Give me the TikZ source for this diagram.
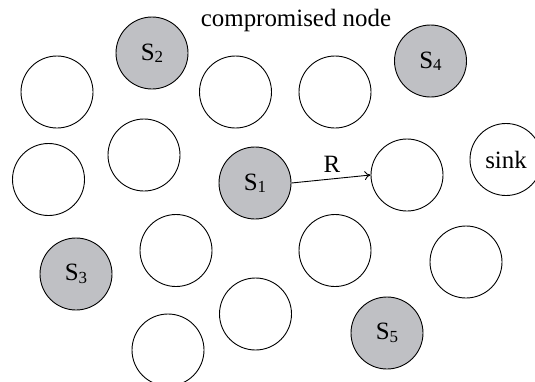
\documentclass[tikz,border=0pt]{standalone}
\usepackage{fontspec}
\setmainfont{Liberation Serif}
\usetikzlibrary{arrows.meta}
\definecolor{cgray}{RGB}{191,192,196}
\newcommand{\sub}[1]{\raisebox{-2.5bp}{\fontsize{17}{17}\selectfont #1}}
\begin{document}
\begin{tikzpicture}[x=1bp,y=-1bp,
 nd/.style={circle,draw,line width=0.9bp,minimum size=72bp,inner sep=0pt,font=\fontsize{25}{28}\selectfont},
 cp/.style={nd,fill=cgray},
 lbl/.style={font=\fontsize{25}{28}\selectfont,inner sep=0pt}]
\useasboundingbox (0,0) rectangle (535,381);
\node[lbl,anchor=base] (title) at (296,26) {compromised node};
\node[cp] (s2) at (152,53) {S\sub{2}};
\node[cp] (s4) at (430.5,61) {S\sub{4}};
\node[nd] (a1) at (57,92) {};
\node[nd] (a2) at (235.5,92) {};
\node[nd] (a3) at (335,92) {};
\node[nd] (a4) at (144,155) {};
\node[nd] (a5) at (48.5,179.5) {};
\node[cp] (s1) at (255,183) {S\sub{1}};
\node[nd] (t) at (407,175) {};
\node[nd] (sink) at (506,159.5) {sink};
\node[nd] (a6) at (176,250.5) {};
\node[nd] (a7) at (335,250.5) {};
\node[nd] (a8) at (466,262) {};
\node[cp] (s3) at (76,274) {S\sub{3}};
\node[nd] (a9) at (255.5,314) {};
\node[cp] (s5) at (387,333) {S\sub{5}};
\node[nd] (a10) at (168,350) {};
\draw[line width=0.9bp,-{To[length=6bp,width=9bp]}] (s1.east) -- (t.west) node[lbl,midway,above=6bp,xshift=1bp] (r) {R};
\end{tikzpicture}
\end{document}
